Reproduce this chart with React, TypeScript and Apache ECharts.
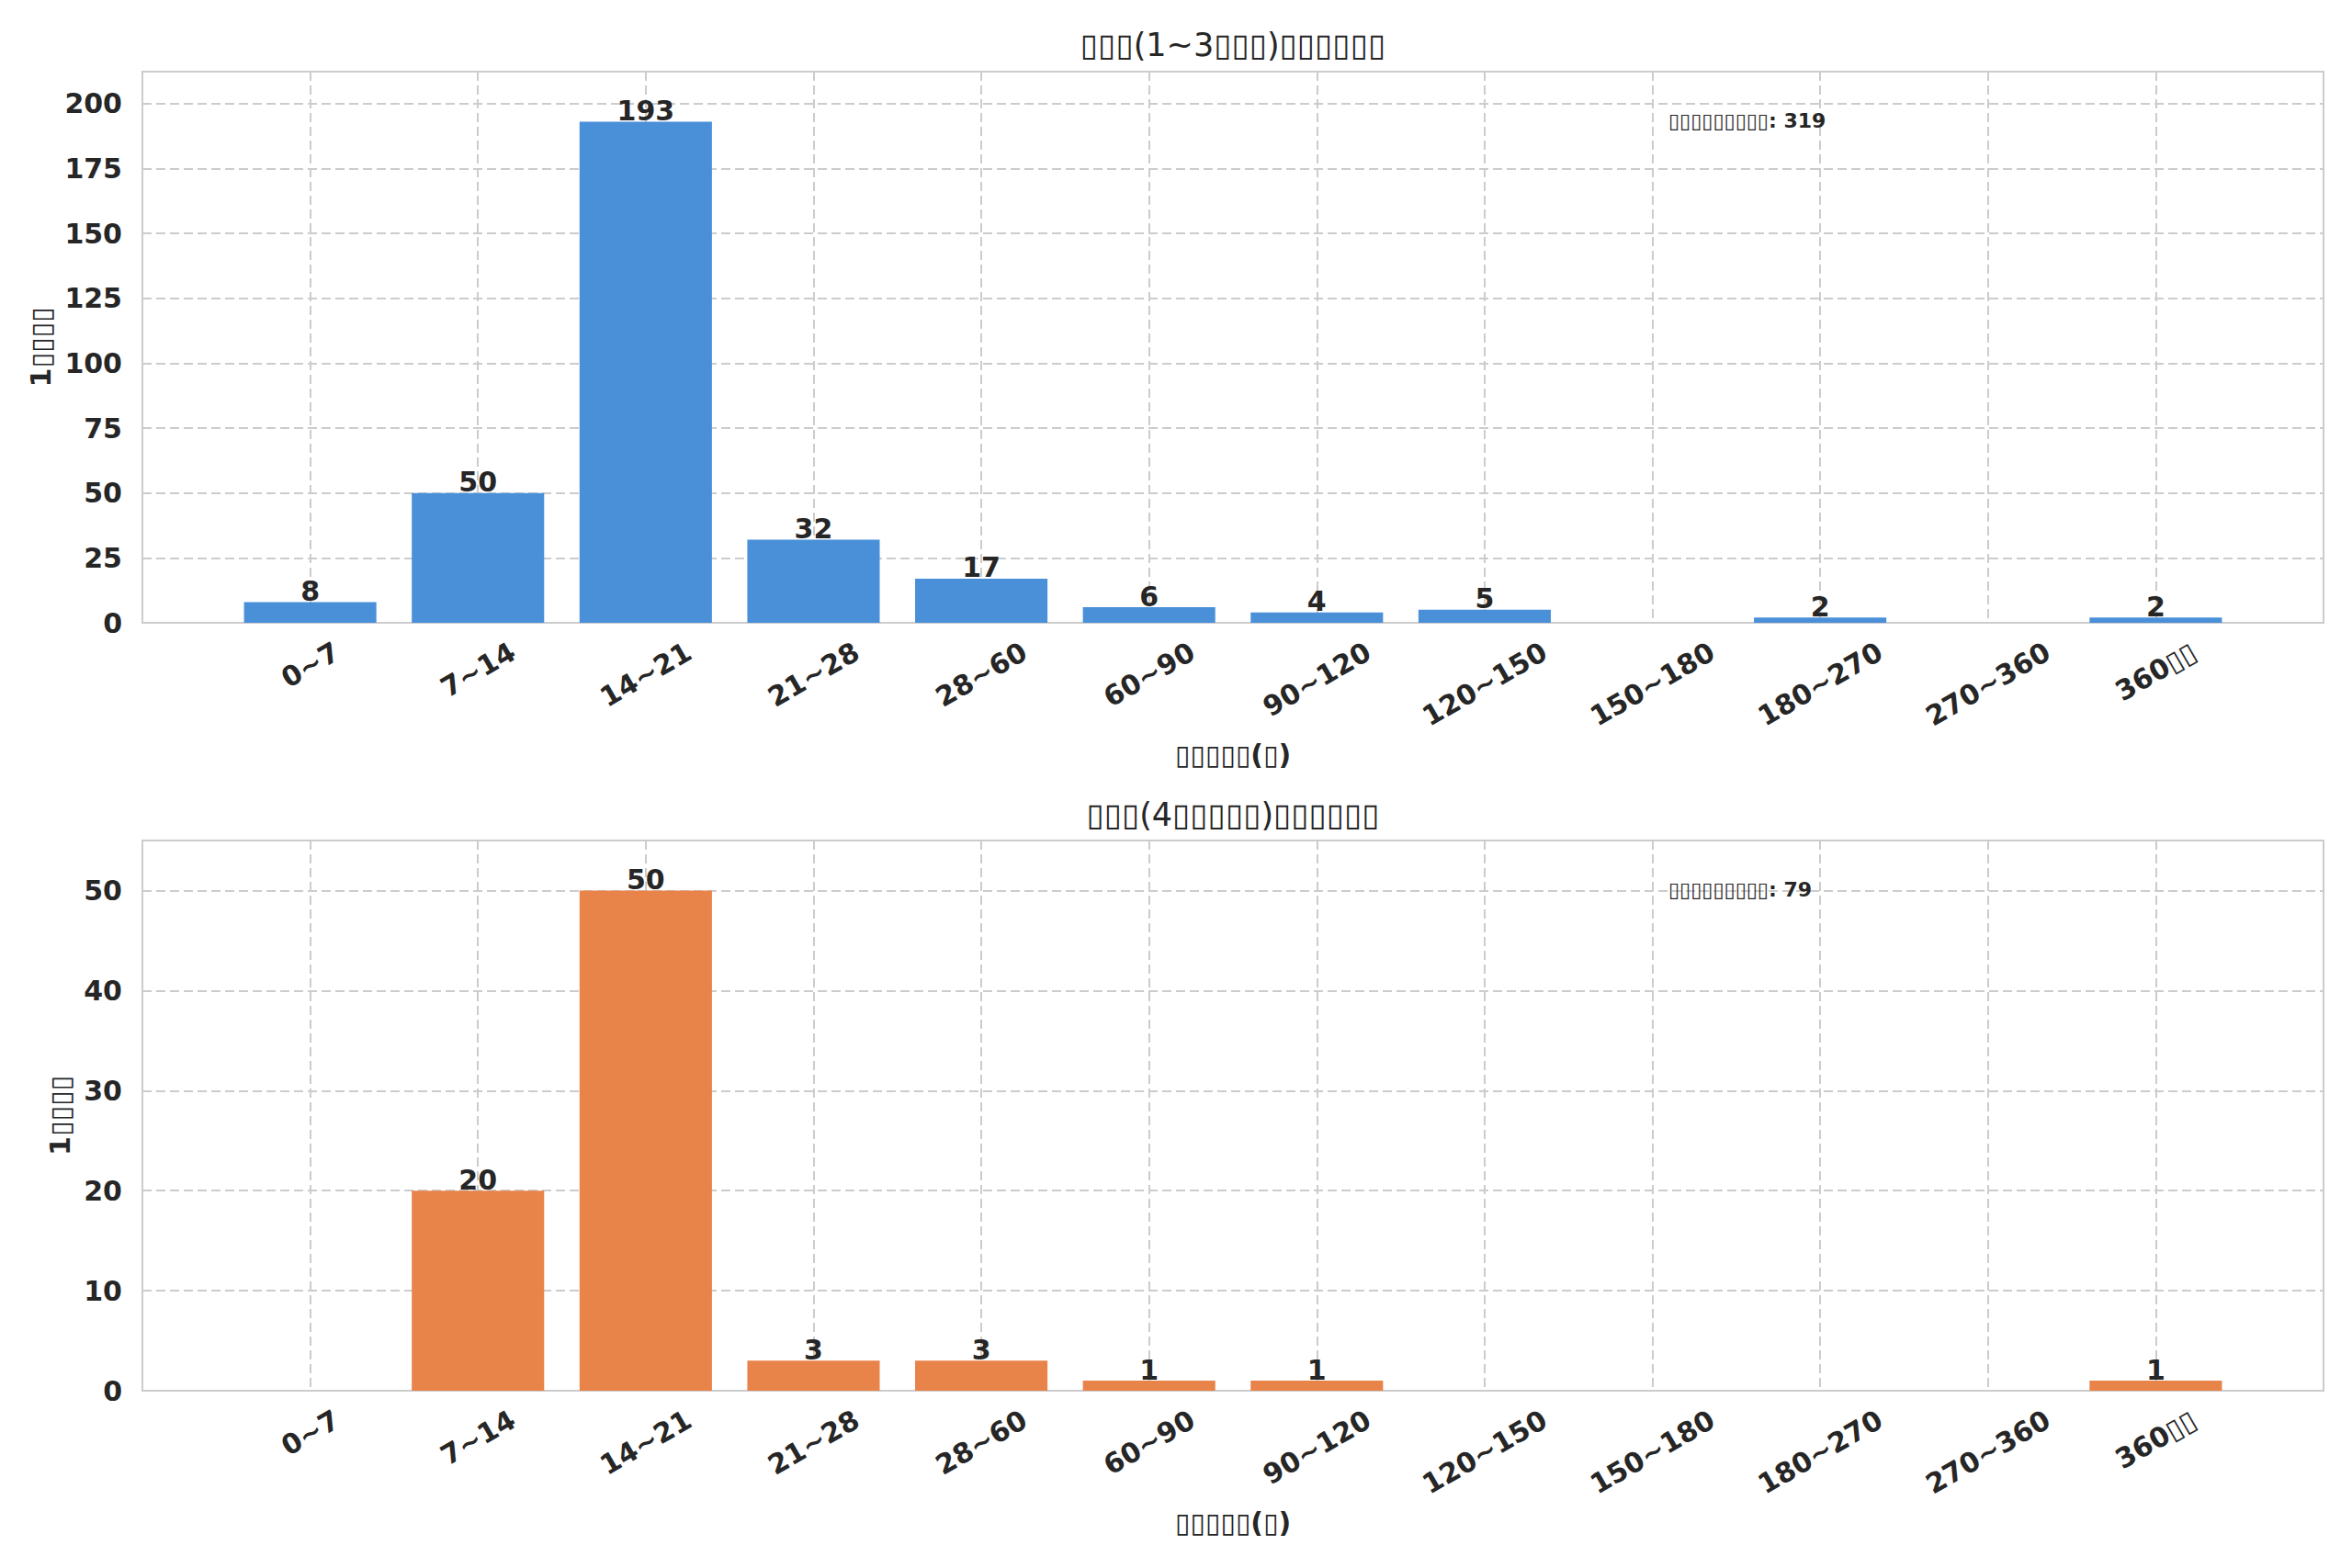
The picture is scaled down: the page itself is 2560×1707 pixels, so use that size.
import * as echarts from "echarts";
import { useEffect, useRef } from "react";

// interval buckets (days) shared by both panels
const categories = [
  "0~7",
  "7~14",
  "14~21",
  "21~28",
  "28~60",
  "60~90",
  "90~120",
  "120~150",
  "150~180",
  "180~270",
  "270~360",
  "360▯▯",
];

const lowFreqCounts = [8, 50, 193, 32, 17, 6, 4, 5, 0, 2, 0, 2];
const highFreqCounts = [0, 20, 50, 3, 3, 1, 1, 0, 0, 0, 0, 1];

const panelTitles = ["▯▯▯(1~3▯▯▯)▯▯▯▯▯▯", "▯▯▯(4▯▯▯▯▯)▯▯▯▯▯▯"];
const yTickSteps = [25, 10];
const xAxisName = "▯▯▯▯▯(▯)";
const yAxisName = "1▯▯▯▯";
const totalLabel = "▯▯▯▯▯▯▯▯▯";

const FONT = "DejaVu Sans";
const INK = "#262626";
const EDGE = "#cccccc";
const COLORS = ["#4a90d9", "#e8834a"];

const PLOT_LEFT = 155;
const PLOT_WIDTH = 2374;
const X_MIN = -1;
const X_MAX = 12;
const TICK_SIZE = 30;
const TICK_PAD = 14;
const TILT = Math.PI / 6;
const panels = [
  { top: 78, height: 600, titleTop: 31, yNameGap: 93 },
  { top: 915, height: 599, titleTop: 869, yNameGap: 72 },
];

// width of a tick label, so a tilted label can hang from its top corner like matplotlib's
const measureCtx = document.createElement("canvas").getContext("2d");
const textWidth = (text: string) => {
  if (!measureCtx) return text.length * TICK_SIZE * 0.7;
  measureCtx.font = `bold ${TICK_SIZE}px "${FONT}"`;
  return measureCtx.measureText(text).width;
};

export default function App() {
  const chartRef = useRef<HTMLDivElement>(null);

  useEffect(() => {
    document.body.style.margin = "0";
    if (!chartRef.current) return;
    const chart = echarts.init(chartRef.current, null, { renderer: "svg" });

    const seriesData = [lowFreqCounts, highFreqCounts];
    const barWidth = (0.8 * PLOT_WIDTH) / (X_MAX - X_MIN) - 2;
    const bold = { fontFamily: FONT, fontWeight: "bold" as const, color: INK };
    const dashed = { color: EDGE, type: [10, 5], width: 2 };

    const bars = seriesData.map((counts, i) => ({
      type: "bar" as const,
      xAxisIndex: i,
      yAxisIndex: i,
      barWidth,
      itemStyle: { color: COLORS[i] },
      label: {
        show: true,
        position: "top" as const,
        distance: -3,
        ...bold,
        fontSize: TICK_SIZE,
        formatter: (params: any) => (params.value[1] > 0 ? String(params.value[1]) : ""),
      },
      data: counts.map((v, k) => [k, v]),
    }));

    const tickLabels = panels.map((_, i) => ({
      type: "custom" as const,
      xAxisIndex: i,
      yAxisIndex: i,
      silent: true,
      z: 5,
      data: categories.map((_, k) => [k, 0]),
      renderItem: (params: any, api: any) => {
        const text = categories[params.dataIndex];
        const [x, y] = api.coord([api.value(0), 0]);
        const w = textWidth(text);
        const h = TICK_SIZE * 1.16;
        const drop = TICK_PAD + (w * Math.sin(TILT) + h * Math.cos(TILT)) / 2;
        return {
          type: "text",
          x,
          y: y + drop,
          rotation: TILT,
          style: {
            text,
            align: "center",
            verticalAlign: "middle",
            fontFamily: FONT,
            fontWeight: "bold",
            fontSize: TICK_SIZE,
            fill: INK,
          },
        };
      },
    }));

    const option: echarts.EChartsOption = {
      animation: false,
      backgroundColor: "#ffffff",
      title: panels.map((p, i) => ({
        text: panelTitles[i],
        left: PLOT_LEFT + PLOT_WIDTH / 2,
        top: p.titleTop,
        textAlign: "center",
        padding: 0,
        textStyle: { fontFamily: FONT, fontWeight: "normal", fontSize: 35, color: INK },
      })),
      grid: panels.map((p) => ({
        left: PLOT_LEFT,
        top: p.top,
        width: PLOT_WIDTH,
        height: p.height,
        show: true,
        borderColor: EDGE,
        borderWidth: 2,
        backgroundColor: "#ffffff",
      })),
      xAxis: panels.map((_, i) => ({
        type: "value",
        gridIndex: i,
        min: X_MIN,
        max: X_MAX,
        interval: 1,
        axisLine: { show: false },
        axisTick: { show: false },
        axisLabel: { show: false },
        splitLine: { show: true, showMinLine: false, showMaxLine: false, lineStyle: dashed },
        name: xAxisName,
        nameLocation: "middle",
        nameGap: 128,
        nameTextStyle: { ...bold, fontSize: 30 },
      })),
      yAxis: panels.map((p, i) => ({
        type: "value",
        gridIndex: i,
        min: 0,
        max: Math.max(...seriesData[i]) * 1.1,
        interval: yTickSteps[i],
        axisLine: { show: false },
        axisTick: { show: false },
        splitLine: { show: true, showMaxLine: false, showMinLine: false, lineStyle: dashed },
        axisLabel: { ...bold, fontSize: TICK_SIZE, margin: 22, showMaxLabel: false },
        name: yAxisName,
        nameLocation: "middle",
        nameGap: p.yNameGap,
        nameTextStyle: { ...bold, fontSize: 30 },
      })),
      series: [...bars, ...tickLabels],
      graphic: panels.map((p, i) => ({
        type: "text",
        left: 1816,
        top: p.top + 42,
        z: 10,
        style: {
          text: `${totalLabel}: ${seriesData[i].reduce((a, b) => a + b, 0)}`,
          fontFamily: FONT,
          fontWeight: "bold",
          fontSize: 22,
          fill: INK,
        },
      })),
    };

    chart.setOption(option);

    return () => {
      chart.dispose();
    };
  }, []);

  return <div ref={chartRef} style={{ width: "2560px", height: "1707px" }} />;
}
